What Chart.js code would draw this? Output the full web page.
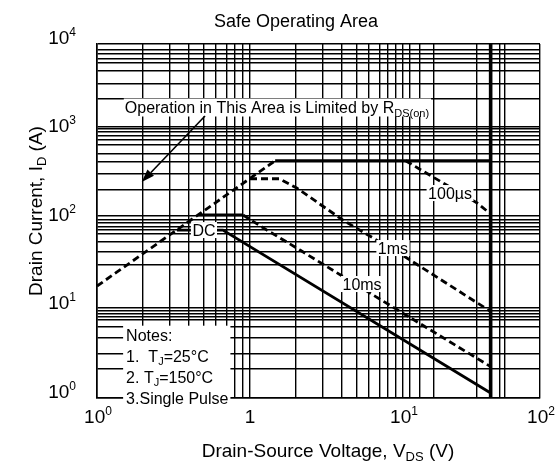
<!DOCTYPE html>
<html>
<head>
<meta charset="utf-8">
<script src="https://cdn.jsdelivr.net/npm/chart.js@4/dist/chart.umd.min.js"></script>
<style>
  html, body { margin: 0; padding: 0; background: #fff; }
  canvas { display: block; }
</style>
</head>
<body>
<canvas id="soa" width="558" height="465"></canvas>
<script>
const FONT = '"Liberation Sans", Arial, Helvetica, sans-serif';

// Grid line positions (V and A)
const xGridValues = [0.1, 0.2, 0.3, 0.4, 0.5, 0.6, 0.7, 0.8, 0.9, 1, 2, 3, 4, 5, 6, 7, 8, 9, 10,
                     11.1, 12.9, 15.8, 30.2, 43, 45.9, 78.6];
const yGridValues = [1, 2.13, 3.2, 4.83, 6.39, 7.61, 8.29, 9.06, 9.6, 10.5, 31.8, 45, 58.4, 71.3,
                     79.1, 86.2, 94.9, 104.5, 115, 228, 340, 468, 582, 722, 823, 913, 1021, 1095,
                     1163, 2390, 3596, 4954, 6213, 6893, 7709, 8710, 10000];

// Decade tick labels: [value, base, exponent]
const xTickLabels = [[0.1, '10', '0'], [1, '1', ''], [10, '10', '1'], [78.6, '10', '2']];
const yTickLabels = [[1, '10', '0'], [10, '10', '1'], [100, '10', '2'], [1000, '10', '3'], [10000, '10', '4']];

// Limit curves: drain-source voltage (V) and drain current (A)
const rdsonV   = [0.1, 1.46];
const rdsonI   = [18.4, 480];
const pkgV     = [1.46, 37.4];
const pkgI     = [480, 480];
const us100V   = [10.4, 15.7, 30.5, 37.4];
const us100I   = [480, 314, 160, 120];
const ms1V     = [1.0, 1.55, 2.02, 4.04, 10.6, 34.5, 37.4];
const ms1I     = [300, 300, 236, 102.6, 38.2, 10.4, 9.5];
const ms10FlatV = [0.458, 0.9];
const ms10FlatI = [117, 117];
const ms10V    = [0.9, 1.29, 2.12, 6.67, 37.4];
const ms10I    = [117, 79, 47, 13.9, 2.26];
const dcV      = [0.333, 0.665, 37.4];
const dcI      = [79, 79, 1.14];
const vdsMax   = 37.4;
const vdsMaxI  = [1, 10000];

// Curve labels: [text, V, I]
const curveLabels = [['100\u00b5s', 20.3, 207], ['1ms', 8.6, 49.5], ['10ms', 5.4, 19.4], ['DC', 0.5, 79]];

const pts = (vs, is) => vs.map((v, k) => ({ x: v, y: is[k] }));

function lineSet(vs, is, dashed, width) {
  return {
    data: pts(vs, is),
    borderColor: '#000',
    borderWidth: width || 2.8,
    borderDash: dashed ? [7, 4] : [],
    pointRadius: 0,
    tension: 0,
    fill: false,
    borderCapStyle: 'butt'
  };
}

// text made of runs: [text, size, dy]
function rich(ctx, parts, x, y, align) {
  let w = 0;
  const widths = parts.map(p => {
    ctx.font = p[1] + 'px ' + FONT;
    const m = ctx.measureText(p[0]).width;
    w += m;
    return m;
  });
  let cx = align === 'center' ? x - w / 2 : (align === 'right' ? x - w : x);
  ctx.textAlign = 'left';
  ctx.textBaseline = 'alphabetic';
  parts.forEach((p, k) => {
    ctx.font = p[1] + 'px ' + FONT;
    ctx.fillText(p[0], cx, y + (p[2] || 0));
    cx += widths[k];
  });
  return w;
}

function measure(ctx, parts) {
  let w = 0;
  parts.forEach(p => { ctx.font = p[1] + 'px ' + FONT; w += ctx.measureText(p[0]).width; });
  return w;
}

const overlay = {
  id: 'overlay',
  afterDraw(chart) {
    const { ctx } = chart;
    const xs = chart.scales.x, ys = chart.scales.y;
    const px = v => xs.getPixelForValue(v);
    const py = v => ys.getPixelForValue(v);
    ctx.save();
    ctx.fillStyle = '#000';

    // title
    rich(ctx, [['Safe Operating Area', 18]], 296, 26.5, 'center');

    // tick labels
    xTickLabels.forEach(([v, b, e]) => {
      const parts = e ? [[b, 19], [e, 12, -8]] : [[b, 19]];
      rich(ctx, parts, px(v) + (e ? 1 : 0), 422.5, 'center');
    });
    yTickLabels.forEach(([v, b, e]) => {
      rich(ctx, [[b, 19], [e, 12, -8]], 76, py(v) - 0.5, 'right');
    });

    // axis titles
    rich(ctx, [['Drain-Source Voltage, V', 19], ['DS', 13, 4], [' (V)', 19]], 328, 457, 'center');
    ctx.save();
    ctx.translate(35, 211);
    ctx.rotate(-Math.PI / 2);
    rich(ctx, [['Drain Current, I', 19], ['D', 13, 4], [' (A)', 19]], 0, 7, 'center');
    ctx.restore();

    // curve labels with white backing
    curveLabels.forEach(([t, v, i]) => {
      const cx = px(v), cy = py(i);
      const w = measure(ctx, [[t, 16]]);
      ctx.fillStyle = '#fff';
      ctx.fillRect(cx - w / 2 - 1.5, cy - 8, w + 3, 16);
      ctx.fillStyle = '#000';
      rich(ctx, [[t, 16]], cx, cy + 5.7, 'center');
    });

    // R_DS(on) region note with arrow
    const noteParts = [['Operation in This Area is Limited by R', 16], ['DS(on)', 11, 4]];
    const nx = px(1.5), ny = py(1941);
    const nw = measure(ctx, noteParts);
    ctx.fillStyle = '#fff';
    ctx.fillRect(nx - nw / 2 - 1, ny - 8.5, nw + 3, 18);
    ctx.fillStyle = '#000';
    rich(ctx, noteParts, nx, ny + 5.7, 'center');

    const ax0 = px(0.508), ay0 = py(1535);
    const ax1 = px(0.196), ay1 = py(275);
    const ang = Math.atan2(ay1 - ay0, ax1 - ax0);
    const head = 13, half = 4.5;
    const bx = ax1 - head * Math.cos(ang), by = ay1 - head * Math.sin(ang);
    ctx.strokeStyle = '#000';
    ctx.lineWidth = 1.6;
    ctx.beginPath();
    ctx.moveTo(ax0, ay0);
    ctx.lineTo(bx, by);
    ctx.stroke();
    ctx.beginPath();
    ctx.moveTo(ax1, ay1);
    ctx.lineTo(bx + half * Math.sin(ang), by - half * Math.cos(ang));
    ctx.lineTo(bx - half * Math.sin(ang), by + half * Math.cos(ang));
    ctx.closePath();
    ctx.fill();

    // test conditions
    const notes = [
      [['Notes:', 16]],
      [['1.  T', 16], ['J', 11, 3], ['=25\u00b0C', 16]],
      [['2. T', 16], ['J', 11, 3], ['=150\u00b0C', 16]],
      [['3.Single Pulse', 16]]
    ];
    const tx = px(0.155);
    const base = py(5.15) + 5.7;
    const step = 21;
    let mw = 0;
    notes.forEach(n => { mw = Math.max(mw, measure(ctx, n)); });
    ctx.fillStyle = '#fff';
    ctx.fillRect(tx - 3, base - 15, mw + 5, step * 3 + 20);
    ctx.fillStyle = '#000';
    notes.forEach((n, k) => rich(ctx, n, tx, base + k * step, 'left'));

    ctx.restore();
  }
};

const gridOpts = { color: '#000', lineWidth: 1.4, drawTicks: false };
const borderOpts = { display: true, color: '#000', width: 1.6 };

new Chart(document.getElementById('soa'), {
  type: 'line',
  data: {
    datasets: [
      lineSet(rdsonV, rdsonI, true),
      lineSet(pkgV, pkgI, false),
      lineSet(us100V, us100I, true),
      lineSet(ms1V, ms1I, true),
      lineSet(ms10FlatV, ms10FlatI, false),
      lineSet(ms10V, ms10I, true),
      lineSet(dcV, dcI, false),
      lineSet([vdsMax, vdsMax], vdsMaxI, false, 3.6)
    ]
  },
  options: {
    responsive: false,
    animation: false,
    events: [],
    layout: { padding: { left: 97, right: 18, top: 44, bottom: 67 } },
    plugins: { legend: { display: false }, tooltip: { enabled: false }, title: { display: false } },
    scales: {
      x: {
        type: 'logarithmic', min: 0.1, max: 78.6,
        afterBuildTicks: s => { s.ticks = xGridValues.map(v => ({ value: v })); },
        ticks: { display: false },
        grid: gridOpts, border: borderOpts
      },
      y: {
        type: 'logarithmic', min: 1, max: 10000,
        afterBuildTicks: s => { s.ticks = yGridValues.map(v => ({ value: v })); },
        ticks: { display: false },
        grid: gridOpts, border: borderOpts
      }
    }
  },
  plugins: [overlay]
});
</script>
</body>
</html>
